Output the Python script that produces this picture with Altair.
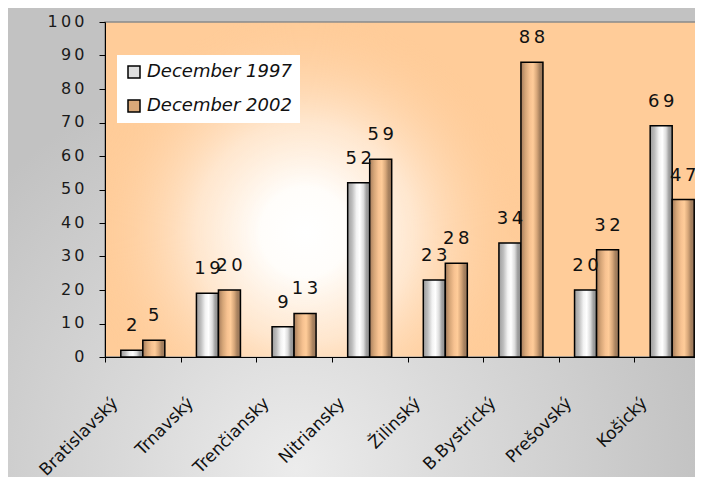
import altair as alt
import pandas as pd

categories = ["Bratislavský", "Trnavský", "Trenčiansky", "Nitriansky",
              "Žilinský", "B.Bystrický", "Prešovský", "Košický"]
series_names = ["December 1997", "December 2002"]
values_1997 = [2, 19, 9, 52, 23, 34, 20, 69]
values_2002 = [5, 20, 13, 59, 28, 88, 32, 47]
y_ticks = [0, 10, 20, 30, 40, 50, 60, 70, 80, 90, 100]

rows = []
for c, v in zip(categories, values_1997):
    rows.append({"cat": c, "series": series_names[0], "value": v})
for c, v in zip(categories, values_2002):
    rows.append({"cat": c, "series": series_names[1], "value": v})
df = pd.DataFrame(rows)
one = pd.DataFrame({"k": [0]})

FONT = "DejaVu Sans"
TS = "\u2009"
W, H = 590, 335
PL, PT, PB = 97, 14, 120

x_enc = alt.X("cat:N", sort=categories, title=None,
              scale=alt.Scale(range=[0, 605], paddingInner=0, paddingOuter=0),
              axis=alt.Axis(labelAngle=315, labelAlign="right", labelBaseline="middle",
                            labelOffset=-28, labelPadding=38, tickSize=5, tickBand="extent",
                            domainColor="black", tickColor="black", labelColor="#111",
                            labelFont=FONT, labelFontSize=17, grid=False, zindex=2))
xo_enc = alt.XOffset("series:N", scale=alt.Scale(domain=series_names, paddingOuter=0.718, paddingInner=0))
y_enc = alt.Y("value:Q", title=None,
              scale=alt.Scale(domain=[0, 100], nice=False),
              axis=alt.Axis(values=y_ticks, tickSize=6, domainColor="black", tickColor="black",
                            labelColor="#1a1a1a", labelFont=FONT, labelFontSize=16, labelPadding=15,
                            labelBaseline="middle", labelOffset=-1,
                            grid=False, zindex=2, labelExpr=f"join(split(datum.label,''),'{TS}')"))

outer_grad = alt.RadialGradient(
    gradient="radial", x1=0.42, y1=0.83, r1=0, x2=0.42, y2=0.83, r2=0.6,
    stops=[alt.GradientStop(color="#ececec", offset=0),
           alt.GradientStop(color="#dadada", offset=0.4),
           alt.GradientStop(color="#c2c2c2", offset=1)])
outer = alt.Chart(one).mark_rect(fill=outer_grad).encode(
    x=alt.value(-PL), x2=alt.value(W), y=alt.value(-PT), y2=alt.value(H + PB))

plot_bg = alt.Chart(one).mark_rect(fill="#ffcc99", stroke="#8a8a8a", strokeWidth=1.5).encode(
    x=alt.value(0), x2=alt.value(605), y=alt.value(0), y2=alt.value(H))

glow_grad = alt.RadialGradient(
    gradient="radial", x1=0.5, y1=0.5, r1=0, x2=0.5, y2=0.5, r2=0.5,
    stops=[alt.GradientStop(color="rgba(255,255,255,1)", offset=0),
           alt.GradientStop(color="rgba(255,253,250,1)", offset=0.2),
           alt.GradientStop(color="rgba(255,235,215,0.85)", offset=0.5),
           alt.GradientStop(color="rgba(255,204,153,0)", offset=1)])
glow = alt.Chart(one).mark_rect(fill=glow_grad, clip=True).encode(
    x=alt.value(-20), x2=alt.value(420), y=alt.value(-10), y2=alt.value(430))

gray_grad = alt.LinearGradient(
    gradient="linear", x1=0, y1=0, x2=1, y2=0,
    stops=[alt.GradientStop(color="#9c9c9c", offset=0),
           alt.GradientStop(color="#bdbdbd", offset=0.2),
           alt.GradientStop(color="#f2f2f2", offset=0.4),
           alt.GradientStop(color="#ffffff", offset=0.55),
           alt.GradientStop(color="#dcdcdc", offset=0.72),
           alt.GradientStop(color="#a0a0a0", offset=0.85),
           alt.GradientStop(color="#8f8f8f", offset=1)])
orange_grad = alt.LinearGradient(
    gradient="linear", x1=0, y1=0, x2=1, y2=0,
    stops=[alt.GradientStop(color="#a57c5c", offset=0),
           alt.GradientStop(color="#d6a678", offset=0.2),
           alt.GradientStop(color="#f7c291", offset=0.4),
           alt.GradientStop(color="#ffcc99", offset=0.55),
           alt.GradientStop(color="#d7a77a", offset=0.72),
           alt.GradientStop(color="#a8825f", offset=0.85),
           alt.GradientStop(color="#98755a", offset=1)])

bars97 = alt.Chart(df).transform_filter(alt.datum.series == series_names[0]).mark_bar(
    fill=gray_grad, stroke="black", strokeWidth=1.5).encode(x=x_enc, xOffset=xo_enc, y=y_enc)
bars02 = alt.Chart(df).transform_filter(alt.datum.series == series_names[1]).mark_bar(
    fill=orange_grad, stroke="black", strokeWidth=1.5).encode(x=x_enc, xOffset=xo_enc, y=y_enc)

labels = alt.Chart(df).transform_calculate(
    lbl=f"join(split(toString(datum.value),''),'{TS}')"
).mark_text(font=FONT, fontSize=18, color="#111", baseline="alphabetic", dy=-19).encode(
    x=x_enc, xOffset=xo_enc, y=y_enc, text="lbl:N")

legend_layer = alt.Chart(df).mark_square(opacity=0, size=10).encode(
    x=x_enc, xOffset=xo_enc, y=y_enc,
    color=alt.Color("series:N", scale=alt.Scale(domain=series_names, range=["#dedede", "#d9a878"]),
                    legend=alt.Legend(title=None, orient="none", legendX=12, legendY=33,
                                      fillColor="white", padding=8, symbolType="square",
                                      symbolSize=144, symbolOpacity=1, symbolStrokeColor="black",
                                      symbolStrokeWidth=1.5, labelFont=FONT, labelFontStyle="italic",
                                      labelFontSize=18, labelColor="#111", labelOffset=4,
                                      rowPadding=16, labelLimit=300, zindex=3)))

chart = alt.layer(outer, plot_bg, glow, bars97, bars02, labels, legend_layer).properties(
    width=W, height=H,
    autosize=alt.AutoSizeParams(type="none"),
    padding={"left": PL, "top": PT, "right": 0, "bottom": PB},
    background="#c4c4c4",
).configure_view(stroke=None)

chart.save("out.html", embed_options={"renderer": "svg", "actions": False})
